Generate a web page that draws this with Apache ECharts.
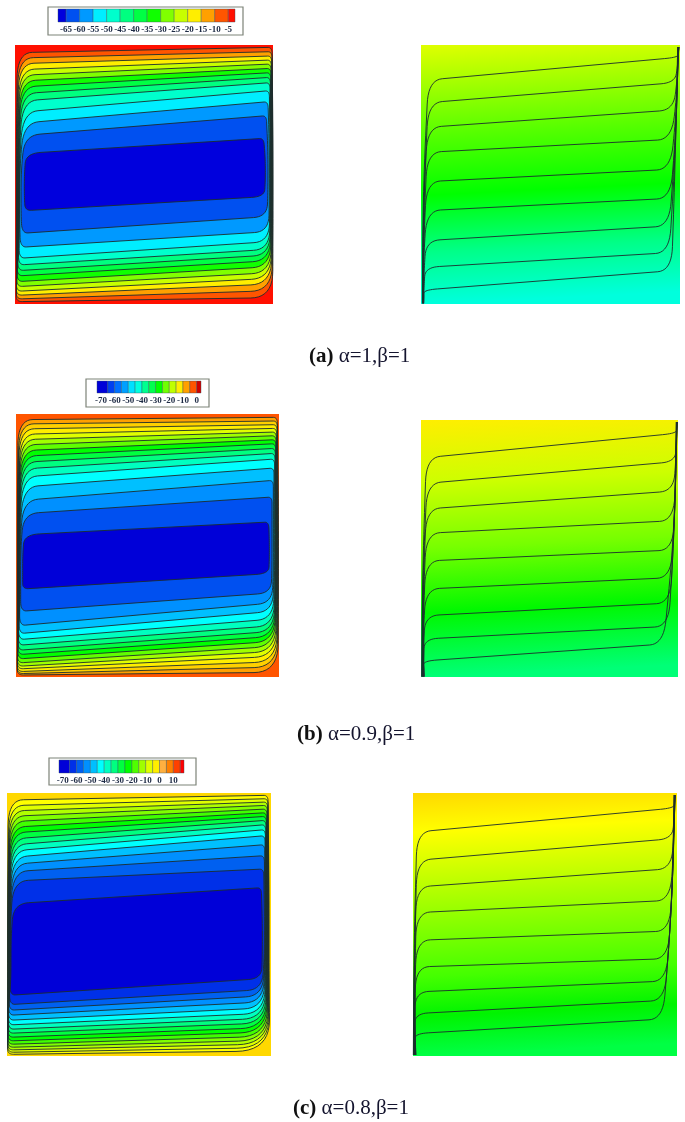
<!DOCTYPE html>
<html lang="en">
<head>
<meta charset="UTF-8">
<title>Contours</title>
<script src="https://cdn.jsdelivr.net/npm/echarts@6/dist/echarts.min.js"></script>
<style>
html, body { margin: 0; padding: 0; background: #fff; }
#main { width: 685px; height: 1122px; }
/* the source figure is a soft scan */
#main canvas { filter: blur(0.45px); }
</style>
</head>
<body>
<div id="main"></div>
<script type="text/javascript">
// Loop columns, outer contour first: top-left x,y / top-right x,y / bottom-right x,y / bottom-left x,y / left strip x / right strip x
var leftA_tlx = [7,10,12,14,15,17,18,20,22,24,27,30,33];
var leftA_tly = [23,39,56,74,91,108,126,146,168,201,234,271,325];
var leftA_trx = [771,771,770,769,768,768,767,766,765,763,759,754,746];
var leftA_try = [7,20,33,45,57,70,83,97,113,137,170,212,280];
var leftA_brx = [773,771,769,768,767,766,765,764,763,762,761,756,748];
var leftA_bry = [758,737,717,700,683,665,647,630,613,590,560,515,455];
var leftA_blx = [4,4,4,4,5,6,6,8,10,12,16,21,31];
var leftA_bly = [770,762,751,739,725,710,693,677,660,640,607,565,497];
var leftA_lmx = [4,5,6,7,8,9,10,11,12,13,14,18,28];
var leftA_rmx = [774,773,772,771,770,769,768,767,766,765,763,759,751];
var leftA_colors = ['#ff1000','#ff5500','#ffa000','#ffee00','#c8ff00','#80ff00','#10ff00','#00ff44','#00ff80','#00ffcc','#00eeff','#0099ff','#0050f0','#0000dd'];

var leftB_tlx = [6,9,11,13,14,15,16,17,18,19,20,21,22,23,25];
var leftB_tly = [17,30,45,61,77,93,110,127,145,165,189,219,259,299,362];
var leftB_trx = [784,784,783,782,781,780,780,779,778,777,776,774,772,768,758];
var leftB_try = [10,21,32,43,54,65,77,89,103,118,135,162,199,249,324];
var leftB_brx = [786,784,782,780,778,776,775,774,773,772,771,770,768,765,758];
var leftB_bry = [775,759,743,727,712,697,682,667,652,635,615,592,567,537,479];
var leftB_blx = [4,4,4,4,4,4,5,5,5,6,7,8,10,14,20];
var leftB_bly = [783,779,773,765,757,747,735,722,709,694,677,659,635,592,525];
var leftB_lmx = [4,5,5,6,6,7,7,8,8,9,10,11,12,14,20];
var leftB_rmx = [787,786,785,784,783,782,781,780,779,778,776,774,772,768,760];
var leftB_colors = ['#ff5500','#ffa000','#ffd000','#ffee00','#e0ff00','#a0ff00','#60ff00','#00ff00','#00ff40','#00ff80','#00ffc0','#00ffff','#00c0ff','#0090ff','#0050f0','#0000d8'];

var leftC_tlx = [4,6,8,9,10,11,12,13,14,15,16,17,18,19,20];
var leftC_tly = [21,38,54,70,86,103,120,138,156,174,193,214,236,264,332];
var leftC_trx = [783,783,782,781,780,779,778,777,776,775,774,773,772,770,763];
var leftC_try = [7,17,27,37,48,59,70,82,95,110,128,155,188,228,284];
var leftC_brx = [789,787,785,783,781,779,777,775,773,771,769,767,765,764,764];
var leftC_bry = [774,764,753,742,730,717,704,690,676,661,645,627,609,590,557];
var leftC_blx = [2,2,2,2,2,2,2,2,3,3,3,3,4,6,8];
var leftC_bly = [784,778,771,763,754,744,733,721,709,696,682,667,652,635,607];
var leftC_lmx = [2,3,3,4,4,5,5,6,6,7,7,8,9,10,12];
var leftC_rmx = [786,785,784,783,782,781,780,779,778,777,776,775,774,772,766];
var leftC_colors = ['#ffd800','#ffff00','#e0ff00','#b0ff00','#80ff00','#40ff00','#00ff00','#00ff40','#00ff80','#00ffc0','#00ffff','#00c0ff','#0090ff','#0060f0','#0030e8','#0000d8'];

// Open contours of the right column: start x / left mid x / corner x,y / right corner x,y / right mid x / end x
var rightA_curves = [
    [4,6,22,105,772,37,772,774],
    [5,7,22,173,762,113,770,774],
    [5,7,19,247,757,195,769,773],
    [6,8,19,322,752,283,768,773],
    [6,8,17,410,749,373,767,772],
    [7,8,17,497,749,460,766,772],
    [7,9,15,587,745,543,765,771],
    [8,9,13,667,745,623,764,771],
    [8,9,8,735,752,677,763,770]
];
var rightA_stops = [[0,'#e0ff00'],[0.35,'#55ff00'],[0.58,'#00ff00'],[0.8,'#00ff88'],[1,'#00ffdd']];

var rightB_curves = [
    [2,5,16,113,766,40,767,769],
    [3,5,18,190,763,125,766,769],
    [4,6,16,267,758,213,765,768],
    [5,6,16,340,758,302,765,768],
    [6,7,14,423,756,390,764,768],
    [7,7,14,507,750,473,763,767],
    [8,8,12,587,748,549,762,767],
    [9,8,10,657,743,619,761,766],
    [10,9,6,723,728,672,760,766]
];
var rightB_stops = [[0,'#ffee00'],[0.25,'#ccff00'],[0.5,'#77ff00'],[0.75,'#00f800'],[1,'#00ff77']];

var rightC_curves = [
    [1,3,12,117,784,45,785,787],
    [2,4,12,202,778,137,784,787],
    [3,4,10,282,775,227,783,786],
    [4,5,10,359,772,322,782,786],
    [5,5,10,442,770,414,781,785],
    [6,6,8,522,765,497,780,785],
    [7,6,6,597,760,564,779,784],
    [8,7,4,662,755,622,778,784],
    [9,7,4,722,750,678,777,783]
];
var rightC_stops = [[0,'#ffd800'],[0.15,'#ffff00'],[0.4,'#aaff00'],[0.7,'#44ff00'],[0.85,'#00f400'],[1,'#00ff44']];

// Colour bars
var barA_edges = [-68,-65,-60,-55,-50,-45,-40,-35,-30,-25,-20,-15,-10,-5,-2.5];
var barA_colors = ['#0000dd','#0050f0','#0099ff','#00eeff','#00ffcc','#00ff80','#00ff44','#10ff00','#80ff00','#c8ff00','#ffee00','#ffa000','#ff5500','#ff1000'];
var barA_ticks = [-65,-60,-55,-50,-45,-40,-35,-30,-25,-20,-15,-10,-5];

var barB_edges = [-72.9,-65,-60,-55,-50,-45,-40,-35,-30,-25,-20,-15,-10,-5,0,3.2];
var barB_colors = ['#0000d8','#0040f0','#0070ff','#00a0ff','#00e0ff','#00ffe0','#00ff90','#00ff50','#00ff00','#70ff00','#c0ff00','#ffee00','#ffa000','#ff5500','#d00000'];
var barB_ticks = [-70,-60,-50,-40,-30,-20,-10,0];

var barC_edges = [-72.7,-65,-60,-55,-50,-45,-40,-35,-30,-25,-20,-15,-10,-5,0,5,10,15,17.7];
var barC_colors = ['#0000d8','#0030e8','#0060f0','#0090ff','#00c0ff','#00ffff','#00ffc0','#00ff80','#00ff40','#00ff00','#50ff00','#a0ff00','#e0ff00','#ffee00','#ffb040','#ff8000','#ff4000','#ff0000'];
var barC_ticks = [-70,-60,-50,-40,-30,-20,-10,0,10];

var captions = [
    { tag: '(a)', text: ' α=1,β=1', left: 309, top: 346 },
    { tag: '(b)', text: ' α=0.9,β=1', left: 297, top: 724 },
    { tag: '(c)', text: ' α=0.8,β=1', left: 293, top: 1098 }
];

function zip(cols) {
    return cols[0].map(function (v, i) {
        return cols.map(function (c) { return c[i]; });
    });
}

// turn a vertex list into a smooth outline; each vertex has [tangent in, tangent out] in pixels
function roundCorners(pts, radii, closed) {
    var out = [];
    var n = pts.length;
    for (var i = 0; i < n; i++) {
        var p = pts[i];
        if (!closed && (i === 0 || i === n - 1)) { out.push(p); continue; }
        var a = pts[(i - 1 + n) % n], b = pts[(i + 1) % n];
        var la = Math.hypot(a[0] - p[0], a[1] - p[1]);
        var lb = Math.hypot(b[0] - p[0], b[1] - p[1]);
        var ra = Math.min(radii[i][0], la / 2);
        var rb = Math.min(radii[i][1], lb / 2);
        var s = [p[0] + (a[0] - p[0]) * ra / la, p[1] + (a[1] - p[1]) * ra / la];
        var e = [p[0] + (b[0] - p[0]) * rb / lb, p[1] + (b[1] - p[1]) * rb / lb];
        for (var k = 0; k <= 10; k++) {
            var t = k / 10, u = 1 - t;
            out.push([
                u * u * s[0] + 2 * u * t * p[0] + t * t * e[0],
                u * u * s[1] + 2 * u * t * p[1] + t * t * e[1]
            ]);
        }
    }
    return out;
}

var LINE = '#1c2c2e';

// fills are painted outer to inner first, the outlines go on top so they can pile up into the dark side strips
function loopSeries(idx, rows, colors, brSize, outline) {
    return {
        type: 'custom', xAxisIndex: idx, yAxisIndex: idx, data: rows, silent: true, animation: false,
        renderItem: function (params, api) {
            var i = params.dataIndex;
            var v = [];
            for (var d = 0; d < 10; d++) v.push(api.value(d));
            var leftH = v[7] - v[1], rightH = v[5] - v[3];
            var verts = [
                [v[0], v[1]], [v[2], v[3]],
                [v[9], v[3] + rightH * 0.35], [v[9], v[3] + rightH * 0.75],
                [v[4], v[5]], [v[6], v[7]],
                [v[8], v[1] + leftH * 0.8], [v[8], v[1] + leftH * 0.35]
            ].map(function (p) { return api.coord(p); });
            var br = Math.max(brSize - i * (brSize - 12) / rows.length, 12);
            var radii = [[26, 15], [4, 6], [40, 40], [40, 40], [br * 1.2, br], [6, 5 + i * 0.5], [40, 40], [40, 40]];
            return {
                type: 'polygon',
                shape: { points: roundCorners(verts, radii, true) },
                style: outline
                    ? { fill: null, stroke: LINE, lineWidth: 0.9 }
                    : { fill: colors[i + 1], stroke: null }
            };
        }
    };
}

function curveSeries(idx, rows, bottom, top) {
    return {
        type: 'custom', xAxisIndex: idx, yAxisIndex: idx, data: rows, silent: true, animation: false,
        renderItem: function (params, api) {
            var v = [];
            for (var d = 0; d < 8; d++) v.push(api.value(d));
            var verts = [
                [v[0], bottom], [v[1], (v[3] + bottom) / 2], [v[2], v[3]],
                [v[4], v[5]], [v[6], (v[5] + top) / 2], [v[7], top]
            ].map(function (p) { return api.coord(p); });
            return {
                type: 'polyline',
                shape: { points: roundCorners(verts, [[0, 0], [90, 90], [24, 14], [14, 24], [60, 60], [0, 0]], false) },
                style: { fill: null, stroke: LINE, lineWidth: 0.9 }
            };
        }
    };
}

function barSeries(idx, edges, colors) {
    var rows = colors.map(function (c, i) { return [edges[i], edges[i + 1]]; });
    return {
        type: 'custom', xAxisIndex: idx, yAxisIndex: idx, data: rows, silent: true, animation: false,
        encode: { x: [0, 1] },
        renderItem: function (params, api) {
            var a = api.coord([api.value(0), 1]);
            var b = api.coord([api.value(1), 0]);
            return {
                type: 'rect',
                shape: { x: a[0], y: a[1], width: b[0] - a[0], height: b[1] - a[1] },
                style: { fill: colors[params.dataIndex], stroke: '#33505a', lineWidth: 0.4 }
            };
        }
    };
}

function gradient(stops) {
    return {
        type: 'linear', x: 0, y: 0, x2: 0.05, y2: 1,
        colorStops: stops.map(function (s) { return { offset: s[0], color: s[1] }; })
    };
}

// pixel boxes of the six cavities, then the three colour bars
var grids = [], xAxes = [], yAxes = [], series = [];

function addPanel(box, bg) {
    var idx = grids.length;
    grids.push({ left: box[0], top: box[1], width: box[2], height: box[3], show: true, backgroundColor: bg, borderWidth: 0 });
    xAxes.push({ gridIndex: idx, type: 'value', show: false, min: 0, max: box[2] * 3 });
    yAxes.push({ gridIndex: idx, type: 'value', show: false, inverse: true, min: 0, max: box[3] * 3 });
    return idx;
}

function addLoops(box, rows, colors, brSize) {
    var idx = addPanel(box, colors[0]);
    series.push(loopSeries(idx, rows, colors, brSize, false));
    series.push(loopSeries(idx, rows, colors, brSize, true));
}

function addBar(box, edges, colors, ticks) {
    var idx = grids.length;
    grids.push({ left: box[0], top: box[1], width: box[2], height: box[3] });
    xAxes.push({
        gridIndex: idx, type: 'value', min: edges[0], max: edges[edges.length - 1],
        splitLine: { show: false }, axisLine: { show: false }, axisTick: { show: false },
        axisLabel: {
            customValues: ticks, margin: 3, fontFamily: 'Liberation Serif', fontWeight: 'bold',
            fontSize: 9, color: '#1d2a44', hideOverlap: false, showMinLabel: true, showMaxLabel: true
        }
    });
    yAxes.push({ gridIndex: idx, type: 'value', show: false, min: 0, max: 1 });
    series.push(barSeries(idx, edges, colors));
}

addLoops([15, 45, 258, 259],
    zip([leftA_tlx, leftA_tly, leftA_trx, leftA_try, leftA_brx, leftA_bry, leftA_blx, leftA_bly, leftA_lmx, leftA_rmx]), leftA_colors, 22);
addLoops([16, 414, 263, 263],
    zip([leftB_tlx, leftB_tly, leftB_trx, leftB_try, leftB_brx, leftB_bry, leftB_blx, leftB_bly, leftB_lmx, leftB_rmx]), leftB_colors, 24);
addLoops([7, 793, 264, 263],
    zip([leftC_tlx, leftC_tly, leftC_trx, leftC_try, leftC_brx, leftC_bry, leftC_blx, leftC_bly, leftC_lmx, leftC_rmx]), leftC_colors, 34);

series.push(curveSeries(addPanel([421, 45, 259, 259], gradient(rightA_stops)), rightA_curves, 775, 6));
series.push(curveSeries(addPanel([421, 420, 257, 257], gradient(rightB_stops)), rightB_curves, 770, 6));
series.push(curveSeries(addPanel([413, 793, 264, 263], gradient(rightC_stops)), rightC_curves, 786, 6));

addBar([58, 9, 177, 13], barA_edges, barA_colors, barA_ticks);
addBar([97, 381, 104, 12], barB_edges, barB_colors, barB_ticks);
addBar([59, 760, 125, 13], barC_edges, barC_colors, barC_ticks);

var barBoxes = [[48, 7, 195, 28], [86, 379, 123, 28], [49, 758, 147, 27]];

var chart = echarts.init(document.getElementById('main'), null, { renderer: 'canvas' });
chart.setOption({
    animation: false,
    backgroundColor: '#ffffff',
    grid: grids,
    xAxis: xAxes,
    yAxis: yAxes,
    series: series,
    title: captions.map(function (c) {
        return {
            left: c.left, top: c.top, padding: 0,
            text: '{t|' + c.tag + '}{r|' + c.text + '}',
            textStyle: {
                fontWeight: 'normal',
                rich: {
                    t: { fontFamily: 'Liberation Serif', fontWeight: 'bold', fontSize: 21, color: '#111' },
                    r: { fontFamily: 'Liberation Serif', fontWeight: 'normal', fontSize: 21, color: '#14142e' }
                }
            }
        };
    }),
    graphic: barBoxes.map(function (b) {
        return {
            type: 'rect', z: -1, silent: true,
            shape: { x: b[0], y: b[1], width: b[2], height: b[3] },
            style: { fill: '#fff', stroke: '#7d8378', lineWidth: 1.2 }
        };
    })
});
</script>
</body>
</html>
